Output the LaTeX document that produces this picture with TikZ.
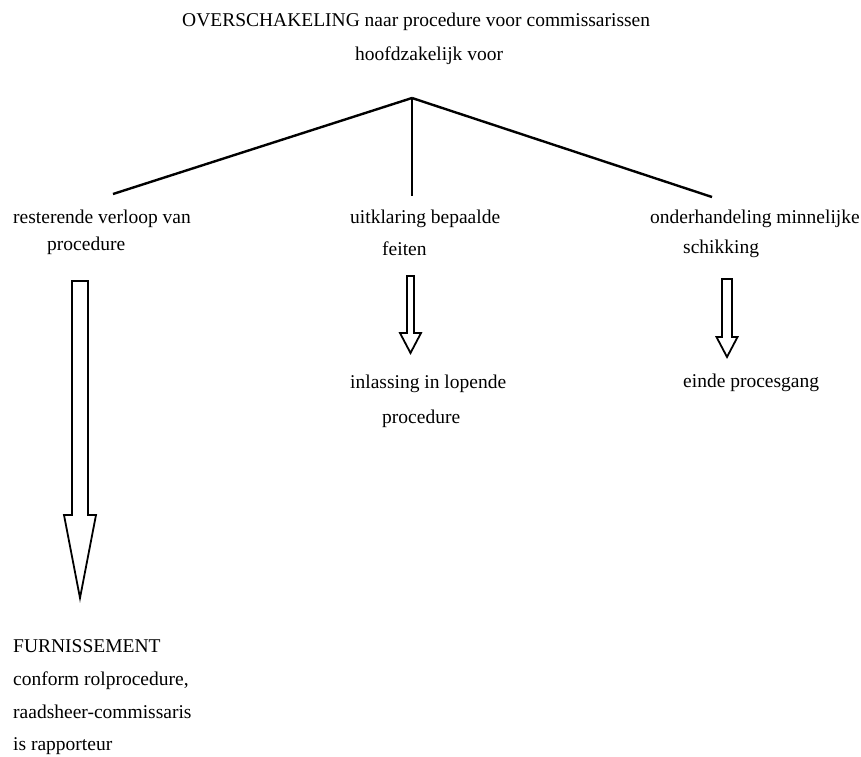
\documentclass[tikz,border=0pt]{standalone}
\usepackage{fontspec}
\setmainfont{Liberation Serif}

% hollow block arrow: x, top, head start, tip, half shaft, half head
\newcommand{\hollowarrow}[6]{%
	\draw[blockarrow] ({#1-#5},#2) -- ({#1+#5},#2) -- ({#1+#5},#3) -- ({#1+#6},#3)
		-- (#1,#4) -- ({#1-#6},#3) -- ({#1-#5},#3) -- cycle;
}

\begin{document}
\begin{tikzpicture}[
	x=1pt,
	y=-1pt,
	txt/.style={
		anchor=base west,
		inner sep=0pt,
		font=\fontsize{19.5}{23}\selectfont
	},
	branch/.style={
		line width=2.4pt
	},
	blockarrow/.style={
		line width=1.8pt,
		line join=miter
	},
]

\useasboundingbox (0,0) rectangle (861,756);

%% Title %%
\node[txt] (title) at (182,26) {OVERSCHAKELING naar procedure voor commissarissen};
\node[txt] (subtitle) at (355,60) {hoofdzakelijk voor};

%% Branches %%
\coordinate (apex) at (412,98);
\coordinate (leftend) at (113,194);
\coordinate (midend) at (412,196);
\coordinate (rightend) at (712,197);

\draw[branch] (apex) -- (leftend);
\draw[branch] (apex) -- (midend);
\draw[branch] (apex) -- (rightend);

%% Left column %%
\node[txt] (rest) at (13,223) {resterende verloop van};
\node[txt] (restb) at (47,250) {procedure};

\hollowarrow{80}{281}{515}{598}{8}{16}

\node[txt] (furn) at (13,652) {FURNISSEMENT};
\node[txt] (furnb) at (13,685) {conform rolprocedure,};
\node[txt] (furnc) at (13,718) {raadsheer-commissaris};
\node[txt] (furnd) at (13,750) {is rapporteur};

%% Middle column %%
\node[txt] (uitk) at (350,223) {uitklaring bepaalde};
\node[txt] (uitkb) at (382,255) {feiten};

\hollowarrow{410.5}{276}{333}{353}{3.5}{10.5}

\node[txt] (inl) at (350,388) {inlassing in lopende};
\node[txt] (inlb) at (382,423) {procedure};

%% Right column %%
\node[txt] (onder) at (650,223) {onderhandeling minnelijke};
\node[txt] (onderb) at (683,253) {schikking};

\hollowarrow{727}{279}{337}{357}{5}{10.5}

\node[txt] (einde) at (683,387) {einde procesgang};

\end{tikzpicture}
\end{document}
